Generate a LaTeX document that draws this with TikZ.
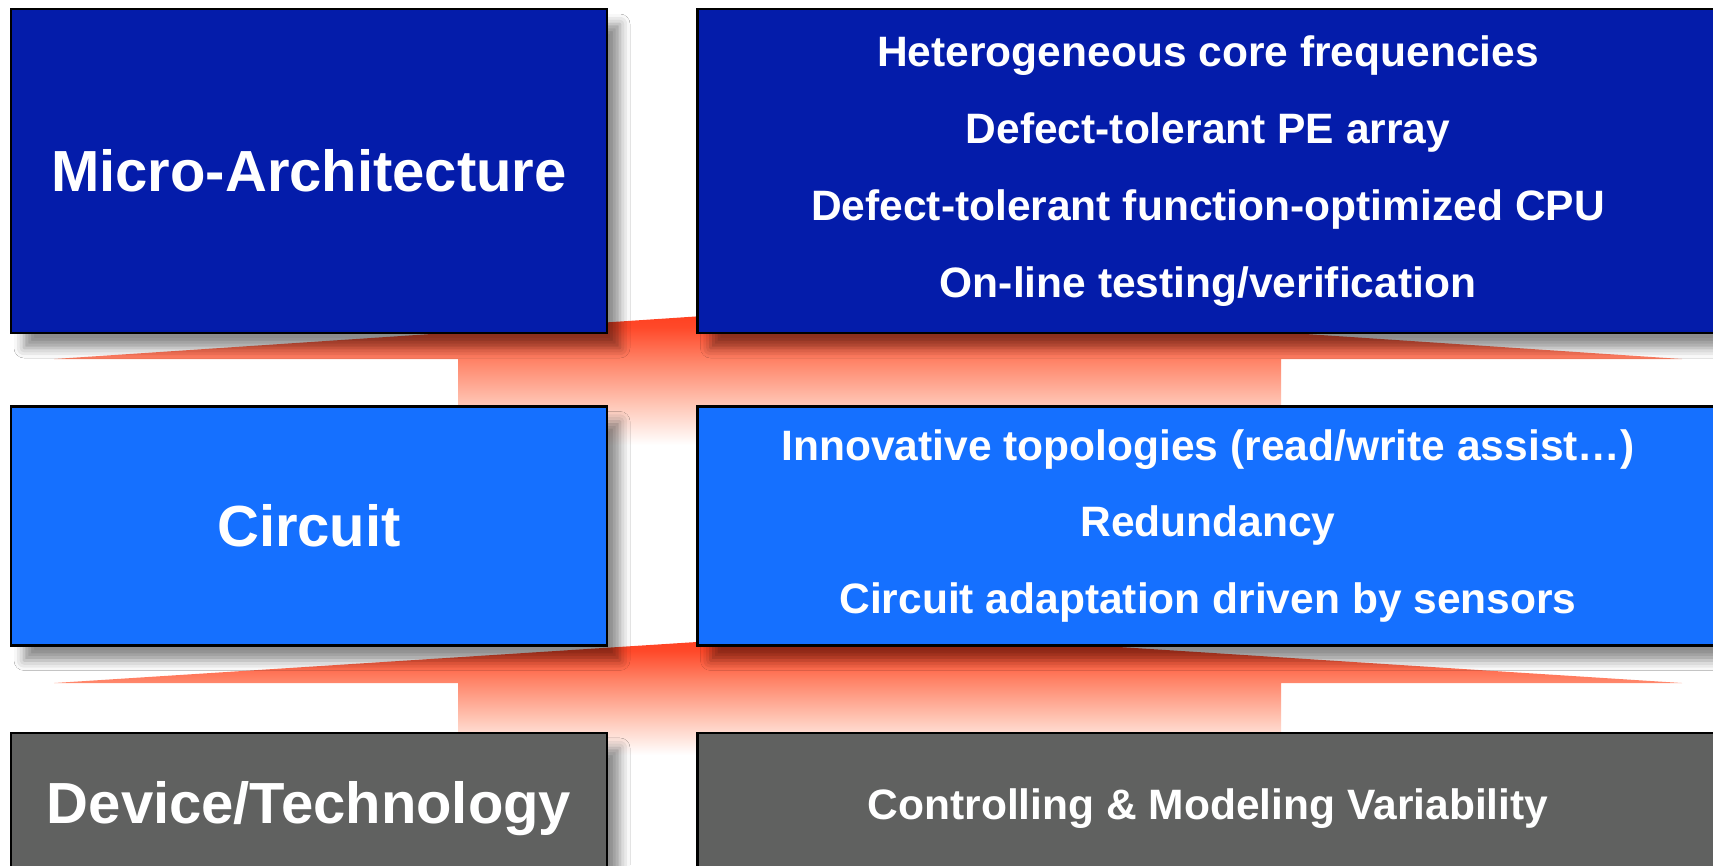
\documentclass[tikz,border=0pt]{standalone}
\usepackage{fontspec}
\setmainfont{Liberation Sans}
\usepackage{xcolor}
\usepackage{tikz}
\usetikzlibrary{calc,positioning,shadows,shadows.blur}

\definecolor{archblue}{HTML}{041CAA}
\definecolor{circblue}{HTML}{1570FF}
\definecolor{devgray}{HTML}{606160}
\definecolor{arrowred}{HTML}{FF3A1A}
\definecolor{arrowsalmon}{HTML}{FF8468}
\definecolor{arrowpink}{HTML}{FFC8B8}

% path box is mapped onto 25bp..75bp
\pgfdeclareverticalshading{uparrow}{100bp}{color(0bp)=(white); color(25bp)=(white); color(39bp)=(arrowpink); color(55bp)=(arrowsalmon); color(67bp)=(arrowred!80!arrowsalmon); color(75bp)=(arrowred); color(100bp)=(arrowred)}

\begin{document}
\begin{tikzpicture}[node distance=0.88cm,
    layer/.style={draw=black, line width=0.7pt, text=white, inner sep=0pt, minimum width=5.96cm,
        font=\bfseries\fontsize{16.5}{20}\selectfont,
        blur shadow={shadow xshift=0.13cm, shadow yshift=-0.15cm, shadow blur radius=0.1cm, shadow opacity=45}},
    items/.style={layer, minimum width=10.21cm, align=center, font=\bfseries\fontsize{12.1}{21.9}\selectfont}]
    \newcommand{\LayerArrow}[3]{\shade[shading=uparrow] (8.69,#1) -- (16.82,#2) -- (12.81,#2) -- (12.81,#3) -- (4.58,#3) -- (4.58,#2) -- (0.54,#2) -- cycle;}

    \useasboundingbox (0,0) rectangle (17.13,-8.65);
    \fill[white] (0,0) rectangle (17.13,-8.65);

    % arrows between the layers
    \LayerArrow{-3.05}{-3.59}{-4.45}
    \LayerArrow{-6.31}{-6.83}{-7.55}

    \node[layer, fill=archblue, minimum height=3.24cm] (arch) at (3.09,-1.71) {Micro-Architecture};
    \node[items, fill=archblue, minimum height=3.24cm, right=of arch] (archlist) {Heterogeneous core frequencies\\ Defect-tolerant PE array\\ Defect-tolerant function-optimized CPU\\ On-line testing/verification};

    \node[layer, fill=circblue, minimum height=2.39cm, below=0.71cm of arch] (circ) {Circuit};
    \node[items, fill=circblue, minimum height=2.39cm, right=of circ] (circlist) {Innovative topologies (read/write assist…)\\ Redundancy\\ Circuit adaptation driven by sensors};

    \node[layer, fill=devgray, minimum height=1.52cm, below=0.85cm of circ] (dev) {Device/Technology};
    \node[items, fill=devgray, minimum height=1.52cm, right=of dev] (devlist) {Controlling \& Modeling Variability};
\end{tikzpicture}
\end{document}
